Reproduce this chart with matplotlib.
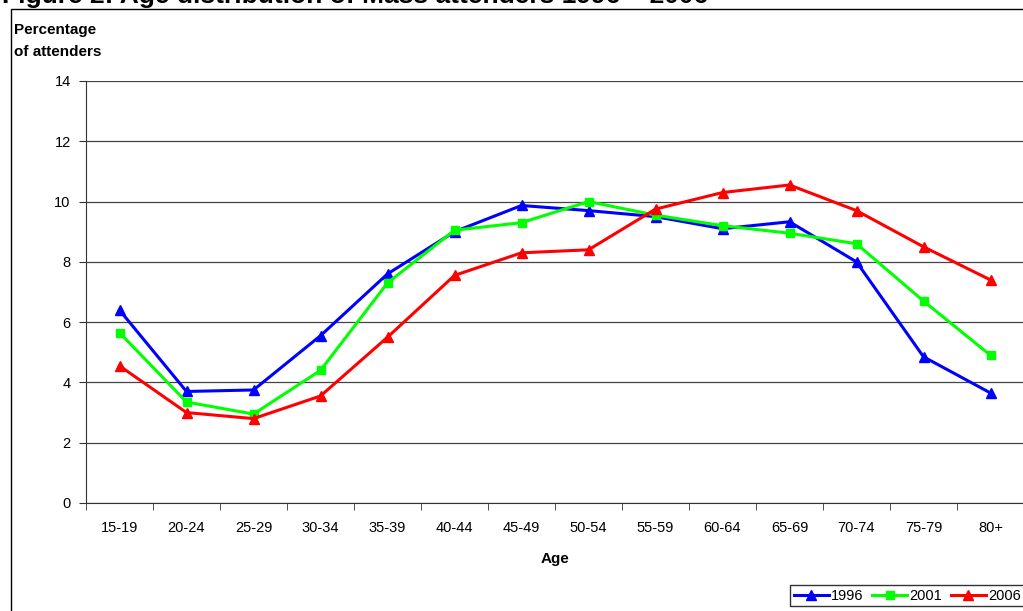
import matplotlib
matplotlib.use("Agg")
import matplotlib.pyplot as plt
from matplotlib.patches import Rectangle
import numpy as np

# Данные
ages = ["15-19", "20-24", "25-29", "30-34", "35-39", "40-44", "45-49",
        "50-54", "55-59", "60-64", "65-69", "70-74", "75-79", "80+"]
y1996 = [6.4, 3.7, 3.75, 5.55, 7.6, 9.0, 9.87, 9.7, 9.5, 9.1, 9.33, 8.0, 4.85, 3.65]
y2001 = [5.65, 3.35, 2.95, 4.4, 7.3, 9.05, 9.3, 10.0, 9.55, 9.2, 8.95, 8.6, 6.7, 4.9]
y2006 = [4.55, 3.0, 2.8, 3.55, 5.5, 7.55, 8.3, 8.4, 9.75, 10.3, 10.55, 9.7, 8.5, 7.4]

plt.rcParams['font.family'] = ['Liberation Sans', 'DejaVu Sans']

W, H = 1023, 611
fig = plt.figure(figsize=(W / 100, H / 100), dpi=100)

# внешняя рамка
fig.patches.append(Rectangle((11 / W, -0.1), 1.2, 1 - 9 / H + 0.1, transform=fig.transFigure,
                             fill=False, edgecolor='black', lw=1.0))

# заголовок (обрезан сверху)
fig.text(2 / W, 1 - 3 / H, "Figure 2: Age distribution of Mass attenders 1996 \u2013 2006",
         fontsize=19, fontweight='bold', va='baseline', ha='left')

ax = fig.add_axes([86 / W, 1 - 503 / H, (1024 - 86) / W, (503 - 81) / H])
x = np.arange(len(ages))

ax.plot(x, y1996, color='#0000FF', lw=2.2, marker='^', ms=7, label='1996', zorder=3)
ax.plot(x, y2001, color='#00FF00', lw=2.2, marker='s', ms=6, label='2001', zorder=3)
ax.plot(x, y2006, color='#FF0000', lw=2.2, marker='^', ms=7, label='2006', zorder=4)

ax.set_xlim(-0.5, len(ages) - 0.5)
ax.set_ylim(0, 14)
ax.set_yticks(np.arange(0, 15, 2))
ax.yaxis.grid(True, color='#444444', lw=0.9)
ax.set_axisbelow(True)

ax.set_xticks(x)
ax.set_xticklabels(ages)
ax.set_xticks(np.arange(-0.5, len(ages), 1), minor=True)
ax.tick_params(axis='x', which='major', length=0, pad=13, labelsize=10.5)
ax.tick_params(axis='x', which='minor', length=5, direction='out', color='#333333')
ax.tick_params(axis='y', length=5, direction='out', labelsize=10.5, pad=6, color='#333333')

for s in ['top', 'right']:
    ax.spines[s].set_visible(False)
ax.spines['left'].set_color('#333333')
ax.spines['bottom'].set_color('#333333')

ax.set_xlabel("Age", fontsize=11, fontweight='bold', labelpad=12)

fig.text(14 / W, 1 - 41 / H, "Percentage\nof attenders", fontsize=11, fontweight='bold',
         ha='left', va='center', linespacing=1.65)

fig.legend(loc='upper left', bbox_to_anchor=(790 / W, 1 - 585 / H), ncol=3,
           fontsize=10.5, frameon=True, fancybox=False, edgecolor='black',
           handlelength=2.4, columnspacing=0.6, handletextpad=0.15, borderpad=0.25,
           borderaxespad=0)

fig.savefig("out.png", dpi=100)
